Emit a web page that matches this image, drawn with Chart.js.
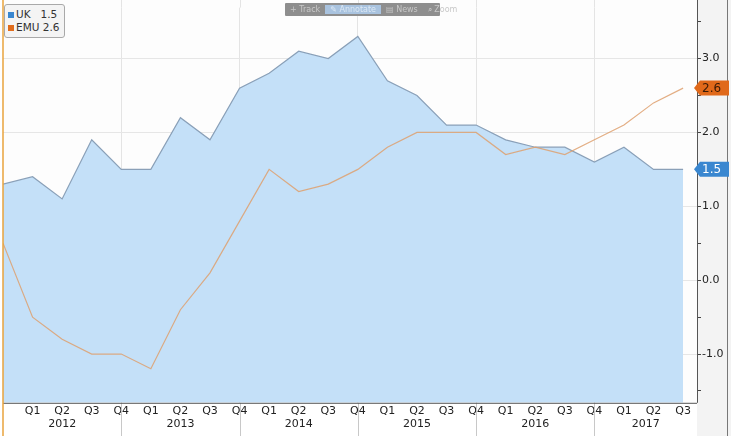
<!DOCTYPE html>
<html>
<head>
<meta charset="utf-8">
<script src="https://cdn.jsdelivr.net/npm/chart.js@4/dist/chart.umd.min.js"></script>
<style>
  html, body { margin: 0; padding: 0; background: #fff; }
  #wrap { position: relative; width: 731px; height: 436px; }
  #legend {
    position: absolute; left: 4px; top: 4px; padding: 3px 5px 3px 3px;
    background: #f4f4f4; border: 1px solid #a9a9a9; border-radius: 3px;
    font: 10.5px "DejaVu Sans", sans-serif; color: #333; line-height: 13px;
  }
  #legend span.sw { display: inline-block; width: 6px; height: 6px; margin-right: 2px; }
  #toolbar {
    position: absolute; left: 285px; top: 3px; width: 155px; height: 13px;
    background: #8e8e8e; color: #c8c8c8; border-radius: 1px;
    font: 8px "DejaVu Sans", sans-serif; line-height: 13px; white-space: nowrap;
  }
  #toolbar b { font-weight: normal; padding: 0 5px; }
  #toolbar b.on { background: #a9c3df; color: #dce8f4; }
</style>
</head>
<body>
<div id="wrap">
  <canvas id="c" width="731" height="436"></canvas>
  <div id="legend">
    <div><span class="sw" style="background:#3a87d0"></span>UK&nbsp;&nbsp; 1.5</div>
    <div><span class="sw" style="background:#e06c1c"></span>EMU 2.6</div>
  </div>
  <div id="toolbar"><b>+ Track</b><b class="on">&#x270E; Annotate</b><b>&#x25A4; News</b><b>&#x2315; Zoom</b></div>
</div>
<script>
// quarters from Q4 2011 to Q3 2017
const quarters = ['Q4', 'Q1', 'Q2', 'Q3', 'Q4', 'Q1', 'Q2', 'Q3', 'Q4', 'Q1', 'Q2', 'Q3',
  'Q4', 'Q1', 'Q2', 'Q3', 'Q4', 'Q1', 'Q2', 'Q3', 'Q4', 'Q1', 'Q2', 'Q3'];
const years = ['2012', '2013', '2014', '2015', '2016', '2017'];
const ukValues = [1.3, 1.4, 1.1, 1.9, 1.5, 1.5, 2.2, 1.9, 2.6, 2.8, 3.1, 3.0,
  3.3, 2.7, 2.5, 2.1, 2.1, 1.9, 1.8, 1.8, 1.6, 1.8, 1.5, 1.5];
const emuValues = [0.5, -0.5, -0.8, -1.0, -1.0, -1.2, -0.4, 0.1, 0.8, 1.5, 1.2, 1.3,
  1.5, 1.8, 2.0, 2.0, 2.0, 1.7, 1.8, 1.7, 1.9, 2.1, 2.4, 2.6];
const yTicks = [-1.5, -1.0, -0.5, 0.0, 0.5, 1.0, 1.5, 2.0, 2.5, 3.0, 3.5];

const FONT = '"DejaVu Sans", sans-serif';
const toPts = vals => vals.map((v, i) => ({ x: i, y: v }));

const extras = {
  id: 'extras',
  beforeDraw(chart) {
    const { ctx, chartArea: a } = chart;
    ctx.save();
    // grey panel for the value axis
    ctx.fillStyle = '#f3f3f3';
    ctx.fillRect(a.right, 0, chart.width - a.right, chart.height);
    ctx.fillStyle = '#fdfdfd';
    ctx.fillRect(a.left, 0, a.right - a.left, a.bottom);
    // carry the year gridlines up to the top edge
    ctx.strokeStyle = '#e4e4e4';
    ctx.lineWidth = 1;
    for (let i = 4; i < quarters.length; i += 4) {
      const px = Math.round(chart.scales.x.getPixelForValue(i)) + 0.5;
      ctx.beginPath(); ctx.moveTo(px, 0); ctx.lineTo(px, a.top); ctx.stroke();
    }
    ctx.restore();
  },
  afterDraw(chart) {
    const { ctx, chartArea: a, scales } = chart;
    const xs = scales.x, ys = scales.y;
    ctx.save();
    // year separators under the axis
    ctx.strokeStyle = '#c8c8c8';
    ctx.lineWidth = 1;
    for (let i = 4; i < quarters.length; i += 4) {
      const px = Math.round(xs.getPixelForValue(i)) + 0.5;
      ctx.beginPath(); ctx.moveTo(px, a.bottom); ctx.lineTo(px, chart.height); ctx.stroke();
    }
    // year labels, centred in each year span
    ctx.fillStyle = '#222';
    ctx.font = '11px ' + FONT;
    ctx.textAlign = 'center';
    ctx.textBaseline = 'top';
    years.forEach((yr, k) => {
      const l = xs.getPixelForValue(k * 4);
      const r = Math.min(xs.getPixelForValue(k * 4 + 4), a.right);
      ctx.fillText(yr, (l + r) / 2, 419);
    });
    // axis lines
    ctx.strokeStyle = '#555';
    ctx.beginPath();
    ctx.moveTo(a.right + 0.5, 0); ctx.lineTo(a.right + 0.5, a.bottom);
    ctx.moveTo(a.left, a.bottom + 0.5); ctx.lineTo(a.right, a.bottom + 0.5);
    ctx.stroke();
    ctx.strokeStyle = '#777';
    ctx.beginPath(); ctx.moveTo(727.5, 0); ctx.lineTo(727.5, chart.height); ctx.stroke();
    // crosshair on the left
    ctx.strokeStyle = '#e8a33c';
    ctx.lineWidth = 1.5;
    const cx = xs.getPixelForValue(0);
    ctx.beginPath(); ctx.moveTo(cx, 0); ctx.lineTo(cx, chart.height); ctx.stroke();
    // last value badges
    const badge = (val, fill, text) => {
      const y = ys.getPixelForValue(val);
      const x0 = a.right - 3, h = 15;
      ctx.fillStyle = fill;
      ctx.beginPath();
      ctx.moveTo(x0, y);
      ctx.lineTo(x0 + 6, y - h / 2);
      ctx.lineTo(chart.width - 2, y - h / 2);
      ctx.lineTo(chart.width - 2, y + h / 2);
      ctx.lineTo(x0 + 6, y + h / 2);
      ctx.closePath();
      ctx.fill();
      ctx.fillStyle = text;
      ctx.font = '12px ' + FONT;
      ctx.textAlign = 'left';
      ctx.textBaseline = 'middle';
      ctx.fillText(val.toFixed(1), x0 + 8, y + 1);
    };
    badge(emuValues[emuValues.length - 1], '#e0691a', '#3a1a05');
    badge(ukValues[ukValues.length - 1], '#3a87d0', '#ffffff');
    ctx.restore();
  }
};

new Chart(document.getElementById('c'), {
  type: 'line',
  data: {
    datasets: [
      {
        label: 'EMU',
        data: toPts(emuValues),
        borderColor: 'rgba(222,160,110,0.85)',
        borderWidth: 1.2,
        pointRadius: 0,
        fill: false,
        tension: 0,
        order: 0
      },
      {
        label: 'UK',
        data: toPts(ukValues),
        borderColor: '#8aa0b8',
        borderWidth: 1.2,
        backgroundColor: '#c4e0f8',
        pointRadius: 0,
        fill: 'start',
        tension: 0,
        order: 1
      }
    ]
  },
  plugins: [extras],
  options: {
    responsive: false,
    animation: false,
    layout: { padding: { left: 3, right: 0, top: 0, bottom: 16 } },
    plugins: { legend: { display: false }, tooltip: { enabled: false } },
    scales: {
      x: {
        type: 'linear',
        min: 0,
        max: 23.47,
        afterBuildTicks: s => { s.ticks = quarters.map((q, i) => ({ value: i })).slice(1); },
        ticks: {
          autoSkip: false,
          maxRotation: 0,
          padding: 2,
          color: '#222',
          font: { family: FONT, size: 11 },
          callback: v => quarters[v]
        },
        grid: {
          drawTicks: false,
          color: ctx => (ctx.tick && ctx.tick.value % 4 === 0) ? '#e4e4e4' : 'rgba(0,0,0,0)'
        },
        border: { display: false }
      },
      y: {
        position: 'right',
        min: -1.66,
        max: 3.69,
        afterBuildTicks: s => { s.ticks = yTicks.filter(v => v <= 3.69).map(v => ({ value: v })); },
        afterFit: s => { s.width = 34; },
        ticks: {
          padding: 1,
          color: '#222',
          font: { family: FONT, size: 11 },
          callback: v => (Number.isInteger(v) ? v.toFixed(1) : '')
        },
        grid: {
          tickLength: 4,
          tickColor: '#444',
          color: ctx => (ctx.tick && Number.isInteger(ctx.tick.value)) ? '#e6e6e6' : 'rgba(0,0,0,0)'
        },
        border: { display: false }
      }
    }
  }
});
</script>
</body>
</html>
